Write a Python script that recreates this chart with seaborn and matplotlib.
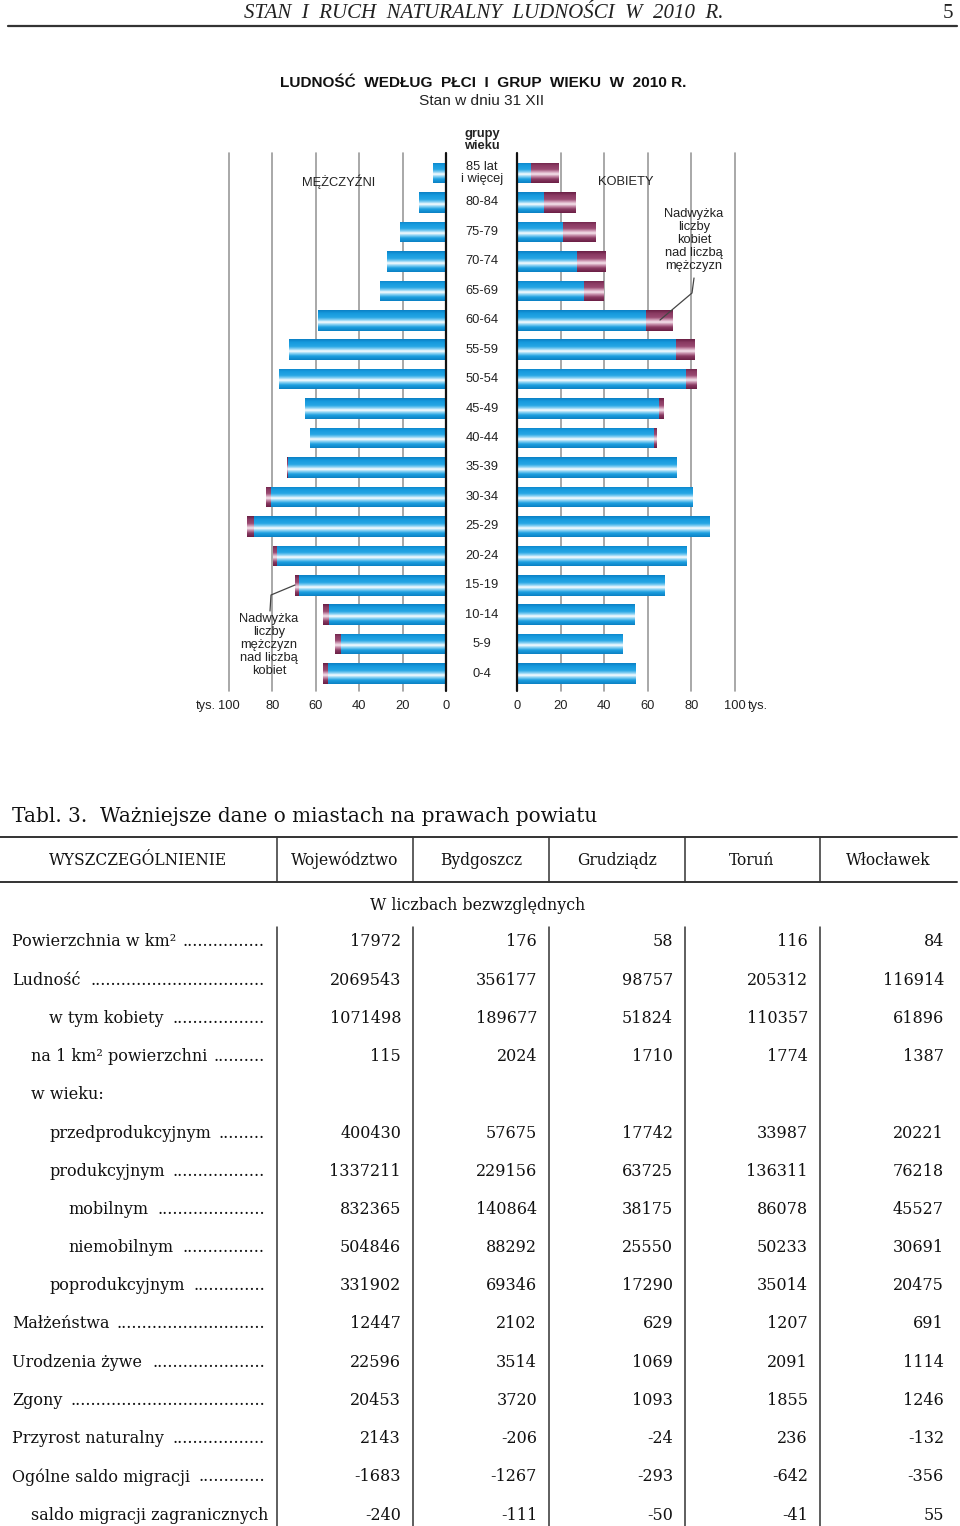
import numpy as np
import pandas as pd
import matplotlib
matplotlib.use("Agg")
import matplotlib.pyplot as plt
import matplotlib.transforms as mtransforms
from matplotlib.colors import LinearSegmentedColormap
from matplotlib.lines import Line2D
import seaborn as sns

# pyramid data (thousands), from top row (85+) down to 0-4
age_groups = ["85 lat\ni więcej", "80-84", "75-79", "70-74", "65-69", "60-64", "55-59",
              "50-54", "45-49", "40-44", "35-39", "30-34", "25-29", "20-24", "15-19",
              "10-14", "5-9", "0-4"]
men = [6.1, 12.3, 21.0, 27.2, 30.3, 59.1, 72.5, 77.1, 65.0, 62.8, 73.3, 82.9, 91.7,
       79.7, 69.6, 56.7, 51.0, 56.5]
women = [19.2, 26.7, 36.2, 40.8, 39.9, 71.2, 81.3, 82.2, 67.3, 63.8, 73.0, 80.5, 88.3,
         77.9, 67.6, 54.1, 48.3, 54.2]
axis_ticks = [0, 20, 40, 60, 80, 100]

# table data
col_names = ["WYSZCZEGÓLNIENIE", "Województwo", "Bydgoszcz", "Grudziądz", "Toruń", "Włocławek"]
row_labels = ["Powierzchnia w km²", "Ludność", "w tym kobiety", "na 1 km² powierzchni",
              "w wieku:", "przedprodukcyjnym", "produkcyjnym", "mobilnym", "niemobilnym",
              "poprodukcyjnym", "Małżeństwa", "Urodzenia żywe", "Zgony", "Przyrost naturalny",
              "Ogólne saldo migracji", "saldo migracji zagranicznych"]
row_level = [0, 0, 2, 1, 1, 2, 2, 3, 3, 2, 0, 0, 0, 0, 0, 1]
wojewodztwo = [17972, 2069543, 1071498, 115, None, 400430, 1337211, 832365, 504846, 331902,
               12447, 22596, 20453, 2143, -1683, -240]
bydgoszcz = [176, 356177, 189677, 2024, None, 57675, 229156, 140864, 88292, 69346,
             2102, 3514, 3720, -206, -1267, -111]
grudziadz = [58, 98757, 51824, 1710, None, 17742, 63725, 38175, 25550, 17290,
             629, 1069, 1093, -24, -293, -50]
torun = [116, 205312, 110357, 1774, None, 33987, 136311, 86078, 50233, 35014,
         1207, 2091, 1855, 236, -642, -41]
wloclawek = [84, 116914, 61896, 1387, None, 20221, 76218, 45527, 30691, 20475,
             691, 1114, 1246, -132, -356, 55]

W, H = 960, 1526
SANS = ["Liberation Sans", "DejaVu Sans"]
SERIF = ["DejaVu Serif"]

sns.set_style("white")
plt.rcParams["font.family"] = SANS

blue_cmap = LinearSegmentedColormap.from_list("bl", [
    (0.0, "#0b80c4"), (0.15, "#169ade"), (0.35, "#26a6e4"), (0.48, "#8fd4f4"),
    (0.58, "#ffffff"), (0.68, "#8fd4f4"), (0.82, "#1c9fe0"), (1.0, "#0b80c4")])
purple_cmap = LinearSegmentedColormap.from_list("pu", [
    (0.0, "#6a1f45"), (0.15, "#8a3a62"), (0.35, "#9a4a72"), (0.48, "#d8a8c0"),
    (0.58, "#f6e6ee"), (0.68, "#c890ac"), (0.82, "#8a3a62"), (1.0, "#6a1f45")])


def fx(x):
    return x / W


def fy(y):
    return 1 - y / H


def paint(ax, patches, cmap):
    # swap flat bar fill for a vertical "tube" gradient clipped to each bar
    grad = np.linspace(0, 1, 64).reshape(-1, 1)
    for p in patches:
        w = p.get_width()
        if abs(w) < 1e-6:
            p.set_visible(False)
            continue
        x0, y0, h = p.get_x(), p.get_y(), p.get_height()
        im = ax.imshow(grad, cmap=cmap, aspect="auto", origin="upper",
                       extent=(x0, x0 + w, y0 + h, y0), zorder=2, interpolation="bilinear")
        im.set_clip_path(p)
        p.set_facecolor("none")
        p.set_edgecolor("none")


df = pd.DataFrame({"age": age_groups, "men": men, "women": women})
df["common"] = df[["men", "women"]].min(axis=1)

fig = plt.figure(figsize=(W / 100, H / 100), dpi=100)

top, bottom = 153, 691
ylim = (17.59, -0.68)
axL = fig.add_axes([fx(229), fy(bottom), fx(446 - 229), (bottom - top) / H])
axR = fig.add_axes([fx(517), fy(bottom), fx(735 - 517), (bottom - top) / H])

for ax, col, flip in [(axL, "men", True), (axR, "women", False)]:
    sns.barplot(data=df, y="age", x=col, order=age_groups, color="#8a3a62",
                width=0.7, errorbar=None, ax=ax)
    sns.barplot(data=df, y="age", x="common", order=age_groups, color="#1c9fe0",
                width=0.7, errorbar=None, ax=ax)
    n = len(age_groups)
    paint(ax, ax.patches[:n], purple_cmap)
    paint(ax, ax.patches[n:], blue_cmap)
    for v in axis_ticks[1:]:
        ax.axvline(v, color="#9a9a9a", lw=1.2, zorder=0, clip_on=False)
    ax.axvline(0, color="#111111", lw=1.6, zorder=4, clip_on=False)
    ax.set_xlim((100, 0) if flip else (0, 100))
    ax.set_ylim(*ylim)
    ax.set_xticks([])
    ax.set_yticks([])
    ax.set_xlabel("")
    ax.set_ylabel("")
    ax.patch.set_alpha(0)
    sns.despine(ax=ax, left=True, bottom=True)
    tr = mtransforms.blended_transform_factory(ax.transData, fig.transFigure)
    for v in axis_ticks:
        ax.text(v, fy(706), str(v), transform=tr, ha="center", va="center", fontsize=9.3,
                color="#222222")

fig.text(fx(216), fy(706), "tys.", ha="right", va="center", fontsize=9.3, color="#222222")
fig.text(fx(748), fy(706), "tys.", ha="left", va="center", fontsize=9.3, color="#222222")

# age group labels in the middle
trm = mtransforms.blended_transform_factory(fig.transFigure, axL.transData)
for i, a in enumerate(age_groups):
    axL.text(fx(482), i, a, transform=trm, ha="center", va="center", fontsize=9.3,
             color="#222222", linespacing=1.1, clip_on=False)
fig.text(fx(482), fy(140), "grupy\nwieku", ha="center", va="center", fontsize=9.3,
         fontweight="bold", linespacing=1.05, color="#222222")

fig.text(fx(339), fy(182), "MĘŻCZYŹNI", ha="center", va="center", fontsize=9.3, color="#222222")
fig.text(fx(626), fy(182), "KOBIETY", ha="center", va="center", fontsize=9.3, color="#222222")

fig.text(fx(694), fy(240), "Nadwyżka\nliczby\nkobiet\nnad liczbą\nmężczyzn", ha="center",
         va="center", fontsize=9.3, linespacing=1.12, color="#222222")
fig.text(fx(269), fy(645), "Nadwyżka\nliczby\nmężczyzn\nnad liczbą\nkobiet", ha="center",
         va="center", fontsize=9.3, linespacing=1.12, color="#222222")
fig.add_artist(Line2D([fx(694), fx(692), fx(660)], [fy(278), fy(293), fy(320)],
                      color="#444444", lw=0.9))
fig.add_artist(Line2D([fx(295), fx(271), fx(270)], [fy(585), fy(595), fy(611)],
                      color="#444444", lw=0.9))

# page header
fig.text(fx(484), fy(13), "STAN  I  RUCH  NATURALNY  LUDNOŚCI  W  2010  R.", ha="center",
         va="center", fontsize=15, fontstyle="italic", family=["Liberation Serif"], color="#222222")
fig.text(fx(948), fy(13), "5", ha="center", va="center", fontsize=15,
         family=["Liberation Serif"], color="#222222")
fig.add_artist(Line2D([fx(8), fx(957)], [fy(25.5), fy(25.5)], color="#333333", lw=1.6))

fig.text(fx(483), fy(83), "LUDNOŚĆ  WEDŁUG  PŁCI  I  GRUP  WIEKU  W  2010 R.", ha="center",
         va="center", fontsize=11.1, fontweight="bold", color="#111111")
fig.text(fx(482), fy(101), "Stan w dniu 31 XII", ha="center", va="center", fontsize=11.1,
         color="#222222")

# table
fig.text(fx(12), fy(817), "Tabl. 3.  Ważniejsze dane o miastach na prawach powiatu", ha="left",
         va="center", fontsize=14.4, family=SERIF, color="#111111")
seps = [277, 413, 549, 685, 820]
for y in [837, 882]:
    fig.add_artist(Line2D([fx(0), fx(957)], [fy(y), fy(y)], color="#333333", lw=1.4))
for x in seps:
    fig.add_artist(Line2D([fx(x), fx(x)], [fy(837), fy(882)], color="#333333", lw=1.1))
    fig.add_artist(Line2D([fx(x), fx(x)], [fy(927), fy(1526)], color="#333333", lw=1.1))

col_centers = [138, 345, 481, 617, 752, 888]
for c, name in zip(col_centers, col_names):
    fig.text(fx(c), fy(860), name, ha="center", va="center", fontsize=11.2, family=SERIF,
             color="#111111")
fig.text(fx(478), fy(905), "W liczbach bezwzględnych", ha="center", va="center", fontsize=11.4,
         family=SERIF, color="#111111")

indent = [12, 31, 49, 68]
row_y = [942 + i * 38.2 for i in range(len(row_labels))]
renderer = fig.canvas.get_renderer()
probe = fig.text(0, 0, "." * 20, fontsize=11.5, family=SERIF)
dot_w = probe.get_window_extent(renderer).width / 20
probe.remove()
for lab, lev, y in zip(row_labels, row_level, row_y):
    t = fig.text(fx(indent[lev]), fy(y), lab, ha="left", va="center", fontsize=11.5,
                 family=SERIF, color="#111111")
    if lab == "w wieku:" or lab.startswith("saldo migracji"):
        continue
    right = t.get_window_extent(renderer).x1
    n = int((265 - right - 6) / dot_w)
    if n > 0:
        fig.text(fx(265), fy(y), "." * n, ha="right", va="center", fontsize=11.5,
                 family=SERIF, color="#111111")

right_edges = [s - 12 for s in seps[1:]] + [944]
for col, xr in zip([wojewodztwo, bydgoszcz, grudziadz, torun, wloclawek], right_edges):
    for v, y in zip(col, row_y):
        if v is None:
            continue
        fig.text(fx(xr), fy(y), str(v), ha="right", va="center", fontsize=11.5,
                 family=SERIF, color="#111111")

fig.savefig("out.png", dpi=100)
